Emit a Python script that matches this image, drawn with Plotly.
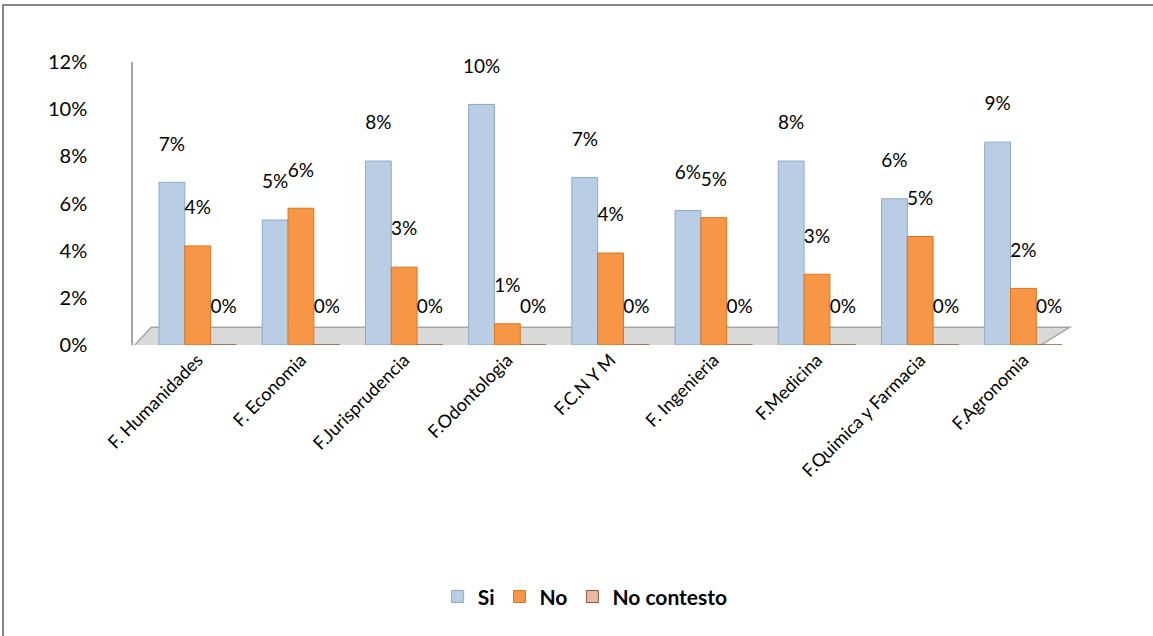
import plotly.graph_objects as go

categories = ["F. Humanidades", "F. Economia", "F.Jurisprudencia", "F.Odontologia",
              "F.C.N Y M", "F. Ingenieria", "F.Medicina", "F.Quimica y Farmacia", "F.Agronomia"]
si = [0.069, 0.053, 0.078, 0.102, 0.071, 0.057, 0.078, 0.062, 0.086]
no = [0.042, 0.058, 0.033, 0.009, 0.039, 0.054, 0.030, 0.046, 0.024]
no_contesto = [0, 0, 0, 0, 0, 0, 0, 0, 0]
y_ticks = [0, 0.02, 0.04, 0.06, 0.08, 0.10, 0.12]

FONT = "Lato, 'Liberation Sans', sans-serif"
label_font = dict(family=FONT, size=19, color="#000000")

fig = go.Figure()
series = [
    ("Si", si, "#B9CDE5", "#8EA9CB"),
    ("No", no, "#F79646", "#D9761F"),
    ("No contesto", no_contesto, "#E6B9A0", "#8B5A3C"),
]
for name, vals, color, line in series:
    fig.add_trace(go.Bar(
        name=name, x=categories, y=vals,
        marker=dict(color=color, line=dict(color=line, width=1)),
        texttemplate="%{y:.0%}<br> ", textposition="outside", constraintext="none",
        textfont=label_font, cliponaxis=False,
    ))

# floor of the 3D-looking chart
fig.add_shape(type="path", xref="x", yref="y", layer="below",
              path="M -0.62,-0.0005 L 8.15,-0.0005 L 8.45,0.0075 L -0.45,0.0075 Z",
              fillcolor="#D9D9D9", line=dict(color="#A6A6A6", width=1.5))
# chart border
fig.add_shape(type="rect", xref="paper", yref="paper",
              x0=-0.138, x1=1.3, y0=-1.3, y1=1.201,
              line=dict(color="#868686", width=2), fillcolor="rgba(0,0,0,0)")

fig.update_layout(
    width=1153, height=636,
    margin=dict(l=133, r=78, t=62, b=291),
    paper_bgcolor="white", plot_bgcolor="white",
    barmode="group", bargap=0.25, bargroupgap=0.0,
    font=dict(family=FONT, color="#000000"),
    showlegend=True,
    legend=dict(orientation="h", x=0.48, xanchor="center", y=-0.89, yanchor="middle",
                font=dict(family=FONT, size=21, color="#000000", weight="bold"),
                itemwidth=30, traceorder="normal"),
    yaxis=dict(range=[0, 0.12], tickvals=y_ticks, tickformat=".0%",
               showgrid=False, zeroline=False, showline=True, linecolor="#A6A6A6",
               linewidth=1.5, tickfont=dict(family=FONT, size=20, color="#000000"),
               ticklabelstandoff=40, ticks=""),
    xaxis=dict(tickangle=-45, showgrid=False, showline=False, ticks="",
               tickfont=dict(family=FONT, size=18, color="#000000")),
)

fig.write_html("out.html")
